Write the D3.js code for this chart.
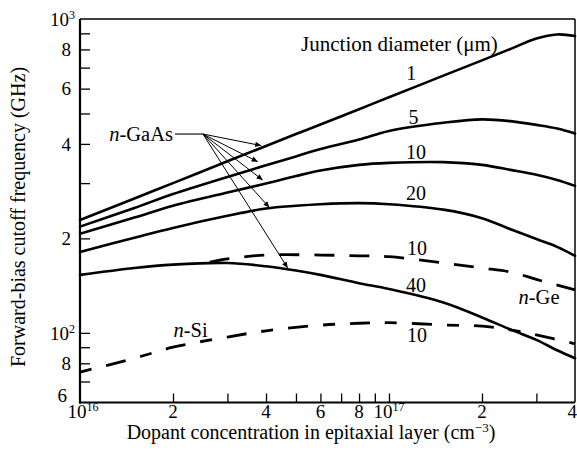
<!DOCTYPE html>
<html><head><meta charset="utf-8">
<script src="https://cdn.jsdelivr.net/npm/d3@7"></script>
<style>
body{margin:0;background:#fff}
</style>
</head><body><svg id="c" width="577" height="465" font-family="'Liberation Serif', 'DejaVu Serif', serif"></svg>
<script>
// ---- data (dopant concentration in cm^-3, cutoff frequency in GHz) ----
const dopant = [1e16,1.5e16,2e16,3e16,4e16,5e16,6e16,8e16,1e17,1.5e17,2e17,2.5e17,3e17,3.5e17,4e17];
const gaas1  = [229,268,300,352,394,430,461,516,563,660,738,806,867,893,883];
const gaas5  = [218,250,277,314,342,365,385,413,440,467,479,472,460,448,432];
const gaas10 = [207,233,254,280,299,316,329,343,348,350,343,330,319,307,294];
const gaas20 = [181,201,216,236,249,254,257,259,257,247,232,213,199,188,176];
const gaas40 = [153,161,165,167,163,158,153,144,138,125,112,102,95,88,83];
const dopantGe = [2.63e16,3e16,4e16,6e16,8e16,1e17,1.5e17,2e17,2.5e17,3e17,4e17];
const ge10     = [168,172,177,177,176,175,167,161,156,148,137];
const dopantSi = [1e16,1.5e16,2e16,3e16,4e16,6e16,8e16,1e17,1.5e17,2e17,2.5e17,3e17,4e17];
const si10     = [75,83,90,97,101.5,105.8,107.3,107.8,106,105,102,98.5,92.3];

const xTickValues = [2e16,3e16,4e16,5e16,6e16,7e16,8e16,9e16,1e17,2e17,3e17];
const xLabelValues = [1e16,2e16,4e16,6e16,8e16,1e17,2e17,4e17];
const xLabelBase   = ["10","2","4","6","8","10","2","4"];
const xLabelSup    = ["16","","","","","17","",""];
const yTickValues = [900,800,700,600,500,400,300,200,100,90,80,70];
const yLabelValues = [1000,800,600,400,200,100,80,60];
const yLabelBase   = ["10","8","6","4","2","10","8","6"];
const yLabelSup    = ["3","","","","","2","",""];

// annotation anchors (data units)
const curveLabels = [
  {t:"1",  n:1.18e17, f:675},
  {t:"5",  n:1.2e17,  f:487},
  {t:"10", n:1.223e17,f:377},
  {t:"20", n:1.223e17,f:278},
  {t:"10", n:1.232e17,f:186},
  {t:"40", n:1.223e17,f:142},
  {t:"10", n:1.232e17,f:98.5}
];
const gaasLabel = {n:2.0e16, f:430};
const gaasLeader = [[2.03e16,430],[2.5e16,430]];
const gaasArrowTips = [[3.86e16,395],[3.76e16,351],[3.9e16,307],[4.1e16,251],[4.7e16,161]];
const geLabel = {n:3.06e17, f:130};
const siLabel = {n:2.28e16, f:102};
const legendTitle = {n:2.25e17, f:832};

// ---- drawing ----
const FONT = "'Liberation Serif', 'DejaVu Serif', serif";
const svg = d3.select("#c");
const x = d3.scaleLog().domain([1e16,4e17]).range([80,575]);
const y = d3.scaleLog().domain([60,1000]).range([402.5,19]);
const txt = (sel)=>sel.append("text").attr("font-family",FONT).attr("fill","#000");

// ticks (inward)
svg.append("g").attr("transform","translate(80,0)")
  .call(d3.axisLeft(y).tickValues(yTickValues).tickSize(-10).tickFormat(""))
  .call(g=>{g.select(".domain").remove(); g.selectAll("line").attr("stroke","#000").attr("stroke-width",1.3);});
svg.append("g").attr("transform","translate(0,402.5)")
  .call(d3.axisBottom(x).tickValues(xTickValues).tickSize(-9).tickFormat(""))
  .call(g=>{g.select(".domain").remove(); g.selectAll("line").attr("stroke","#000").attr("stroke-width",1.3);});

// frame
svg.append("line").attr("x1",80).attr("x2",575).attr("y1",19).attr("y2",19).attr("stroke","#000").attr("stroke-width",1.3);
svg.append("line").attr("x1",575).attr("x2",575).attr("y1",19).attr("y2",402.5).attr("stroke","#000").attr("stroke-width",1.5);
svg.append("line").attr("x1",80).attr("x2",80).attr("y1",19).attr("y2",403.5).attr("stroke","#000").attr("stroke-width",2.2);
svg.append("line").attr("x1",79).attr("x2",575).attr("y1",402.5).attr("y2",402.5).attr("stroke","#000").attr("stroke-width",2.2);

// tick labels
yLabelValues.forEach((v,i)=>{
  const last = i === yLabelValues.length-1;
  const t = txt(svg).attr("x",last?67:71).attr("y",y(v) - (last?7:0)).attr("dy","0.35em")
    .attr("text-anchor","end").attr("font-size",19);
  if (yLabelSup[i]) {
    t.attr("x",75);
    t.append("tspan").text(yLabelBase[i]);
    t.append("tspan").attr("dy",-7).attr("font-size",12).text(yLabelSup[i]);
  } else t.text(yLabelBase[i]);
});
xLabelValues.forEach((v,i)=>{
  const last = i === xLabelValues.length-1;
  const first = i === 0;
  const t = txt(svg).attr("x",last?577:x(v)+(first?3:0)).attr("y",418)
    .attr("text-anchor",last?"end":"middle").attr("font-size",19);
  t.append("tspan").text(xLabelBase[i]);
  if (xLabelSup[i]) t.append("tspan").attr("dy",-7).attr("font-size",12).text(xLabelSup[i]);
});

// axis titles
const xt = txt(svg).attr("x",311).attr("y",439).attr("text-anchor","middle").attr("font-size",20);
xt.append("tspan").text("Dopant concentration in epitaxial layer (cm");
xt.append("tspan").attr("dy",-7).attr("font-size",13).text("\u22123");
xt.append("tspan").attr("dy",7).text(")");
txt(svg).attr("transform","translate(25,217) rotate(-90)")
  .attr("text-anchor","middle").attr("font-size",20)
  .text("Forward-bias cutoff frequency (GHz)");

// curves
const line = d3.line().x(d=>x(d[0])).y(d=>y(d[1])).curve(d3.curveCatmullRom.alpha(0.5));
const solid = [gaas1,gaas5,gaas10,gaas20,gaas40];
solid.forEach(s=>{
  svg.append("path").datum(dopant.map((n,i)=>[n,s[i]])).attr("d",line)
    .attr("fill","none").attr("stroke","#000").attr("stroke-width",2.6).attr("stroke-linecap","round");
});
svg.append("path").datum(dopantGe.map((n,i)=>[n,ge10[i]])).attr("d",line)
  .attr("fill","none").attr("stroke","#000").attr("stroke-width",2.8).attr("stroke-dasharray","20,15");
svg.append("path").datum(dopantSi.map((n,i)=>[n,si10[i]])).attr("d",line)
  .attr("fill","none").attr("stroke","#000").attr("stroke-width",2.8).attr("stroke-dasharray","12,15,20,15");

// curve labels
curveLabels.forEach(d=>{
  txt(svg).attr("x",x(d.n)).attr("y",y(d.f)).attr("dy","0.35em")
    .attr("text-anchor","middle").attr("font-size",20).text(d.t);
});
txt(svg).attr("x",x(legendTitle.n)).attr("y",y(legendTitle.f)).attr("dy","0.35em")
  .attr("text-anchor","end").attr("font-size",21).text("Junction diameter (\u03bcm)");

function italLabel(d, anchor, main){
  const t = txt(svg).attr("x",x(d.n)).attr("y",y(d.f)).attr("dy","0.35em")
    .attr("text-anchor",anchor).attr("font-size",20.5);
  t.append("tspan").attr("font-style","italic").text("n");
  t.append("tspan").text(main);
}
italLabel(gaasLabel,"end","-GaAs");
italLabel(geLabel,"middle","-Ge");
italLabel(siLabel,"middle","-Si");

// arrows
svg.append("defs").append("marker").attr("id","ah").attr("viewBox","0 0 10 10")
  .attr("refX",10).attr("refY",5).attr("markerWidth",9).attr("markerHeight",6)
  .attr("markerUnits","userSpaceOnUse").attr("orient","auto")
  .append("path").attr("d","M0,0.5L10,5L0,9.5Z").attr("fill","#000");
svg.append("line").attr("x1",x(gaasLeader[0][0])).attr("y1",y(gaasLeader[0][1]))
  .attr("x2",x(gaasLeader[1][0])).attr("y2",y(gaasLeader[1][1])).attr("stroke","#000").attr("stroke-width",1.1);
gaasArrowTips.forEach(tp=>{
  svg.append("line").attr("x1",x(gaasLeader[1][0])).attr("y1",y(gaasLeader[1][1]))
    .attr("x2",x(tp[0])).attr("y2",y(tp[1])).attr("stroke","#000").attr("stroke-width",1)
    .attr("marker-end","url(#ah)");
});
</script>
</body></html>
